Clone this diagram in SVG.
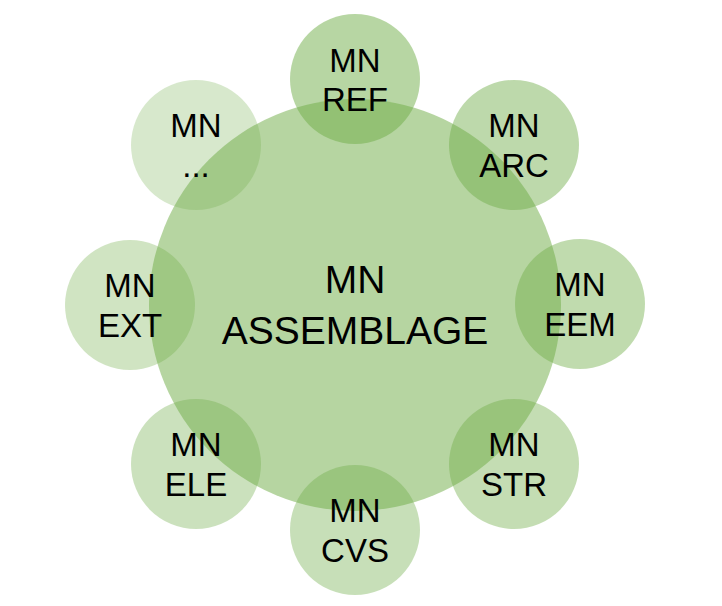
<svg xmlns="http://www.w3.org/2000/svg" width="722" height="606" viewBox="0 0 722 606">
<style>
.c{fill:#70ad47}
.t{font-family:"Liberation Sans",Arial,sans-serif;fill:#000;text-anchor:middle}
.s{font-size:33px}
.b{font-size:39px}
</style>
<rect width="722" height="606" fill="#fff"/>
<g id="node-center">
<circle class="c" cx="355" cy="305" r="206" fill-opacity="0.51"/>
</g>
<g id="node-ref"><circle class="c" cx="355" cy="79" r="65" fill-opacity="0.5"/></g>
<g id="node-arc"><circle class="c" cx="514" cy="145" r="65" fill-opacity="0.46"/></g>
<g id="node-eem"><circle class="c" cx="580" cy="304" r="65" fill-opacity="0.44"/></g>
<g id="node-str"><circle class="c" cx="514" cy="464" r="65" fill-opacity="0.41"/></g>
<g id="node-cvs"><circle class="c" cx="355" cy="530" r="65" fill-opacity="0.39"/></g>
<g id="node-ele"><circle class="c" cx="196" cy="464" r="65" fill-opacity="0.36"/></g>
<g id="node-ext"><circle class="c" cx="130" cy="305" r="65" fill-opacity="0.33"/></g>
<g id="node-more"><circle class="c" cx="196" cy="145" r="65" fill-opacity="0.28"/></g>
<g id="connectors"></g>
<g id="labels">
<text class="t b" x="355" y="293">MN</text>
<text class="t b" x="355" y="344">ASSEMBLAGE</text>
<text class="t s" x="355" y="72">MN</text><text class="t s" x="355" y="111">REF</text>
<text class="t s" x="514" y="137">MN</text><text class="t s" x="514" y="177">ARC</text>
<text class="t s" x="580" y="296">MN</text><text class="t s" x="580" y="336">EEM</text>
<text class="t s" x="514" y="456">MN</text><text class="t s" x="514" y="496">STR</text>
<text class="t s" x="355" y="522">MN</text><text class="t s" x="355" y="562">CVS</text>
<text class="t s" x="196" y="456">MN</text><text class="t s" x="196" y="496">ELE</text>
<text class="t s" x="130" y="297">MN</text><text class="t s" x="130" y="337">EXT</text>
<text class="t s" x="196" y="137">MN</text><text class="t s" x="196" y="177">...</text>
</g>
</svg>
